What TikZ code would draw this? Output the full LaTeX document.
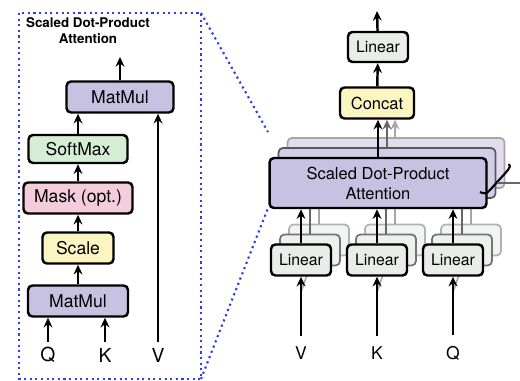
\documentclass[tikz,border=0pt]{standalone}
\usepackage{fontspec}
\setmainfont{TeX Gyre Heros}
\usepackage{tikz}
\usetikzlibrary{arrows.meta, positioning}

\definecolor{mmpurple}{HTML}{C8C2E2}
\definecolor{smgreen}{HTML}{D5EDD5}
\definecolor{maskpink}{HTML}{F5CCDC}
\definecolor{scyellow}{HTML}{FBF5C2}
\definecolor{lingray}{HTML}{E8EDEA}
\definecolor{zoomblue}{HTML}{2C3CF0}

\begin{document}
\begin{tikzpicture}[
        x=0.02cm, y=-0.02cm,
        block/.style={
            rectangle,
            rounded corners=2.5pt,
            draw=black,
            line width=1.4pt,
            inner sep=0pt,
            minimum height=0.62cm,
            text centered,
            font=\fontsize{10}{12}\selectfont
        },
        matmul/.style={block, fill=mmpurple},
        softmax/.style={block, fill=smgreen},
        maskbox/.style={block, fill=maskpink},
        scalebox/.style={block, fill=scyellow},
        linbox/.style={
            block,
            fill=lingray,
            minimum width=1.2cm,
            font=\fontsize{9}{11}\selectfont
        },
        attbox/.style={
            block,
            fill=mmpurple,
            minimum width=4.34cm,
            minimum height=1cm,
            align=center,
            font=\fontsize{9.4}{11.4}\selectfont
        },
        ghostnear/.style={draw=black!65, fill=mmpurple!80, line width=1pt},
        ghostfar/.style={draw=black!35, fill=mmpurple!55, line width=1pt},
        linghostnear/.style={draw=black!55, fill=lingray!80, line width=1pt},
        linghostfar/.style={draw=black!30, fill=lingray!60, line width=1pt},
        arrow/.style={
            line width=1.4pt,
            -{Stealth[length=5.5pt,width=5pt]}
        },
        inlabel/.style={font=\fontsize{11}{13}\selectfont, inner sep=1pt}
    ]
        \useasboundingbox (0,0) rectangle (520,381);

        % left: scaled dot-product attention
        \node (title) [font=\fontsize{7.6}{9}\selectfont\bfseries, align=center] at (88,31) {Scaled Dot-Product\\Attention};
        \node (mmtop) [matmul, minimum width=2.14cm] at (120,97) {MatMul};
        \node (softmax) [softmax, minimum width=1.98cm, minimum height=0.56cm] at (78,149) {SoftMax};
        \node (mask) [maskbox, minimum width=2.18cm] at (78,198) {Mask (opt.)};
        \node (scale) [scalebox, minimum width=1.42cm] at (78,248) {Scale};
        \node (mmbot) [matmul, minimum width=2cm] at (78,301) {MatMul};
        \node (q) [inlabel] at (48,355) {Q};
        \node (k) [inlabel] at (105,355) {K};
        \node (v) [inlabel] at (158,355) {V};
        \coordinate (attout) at (120,57);

        \draw [arrow, shorten <=2pt] (q) -- (q |- mmbot.south);
        \draw [arrow, shorten <=2pt] (k) -- (k |- mmbot.south);
        \draw [arrow, shorten <=2pt] (v) -- (v |- mmtop.south);
        \draw [arrow] (mmbot) -- (scale);
        \draw [arrow] (scale) -- (mask);
        \draw [arrow] (mask) -- (softmax);
        \draw [arrow] (softmax) -- (softmax |- mmtop.south);
        \draw [arrow] (mmtop) -- (attout);

        % zoom frame
        \coordinate (frametl) at (19,13);
        \coordinate (framebr) at (201,379);
        \coordinate (zoomtop) at (268,132);
        \coordinate (zoombot) at (268,208);
        \draw [zoomblue, dotted, line width=1.2pt] (frametl) rectangle (framebr);
        \draw [zoomblue, dotted, line width=1.2pt] (framebr |- frametl) -- (zoomtop);
        \draw [zoomblue, dotted, line width=1.2pt] (framebr) -- (zoombot);

        % right: multi-head attention
        \node (lin2v) [linbox, linghostfar] at (319,240) {};
        \node (lin1v) [linbox, linghostnear] at (310,250) {};
        \node (lin2k) [linbox, linghostfar] at (395,240) {};
        \node (lin1k) [linbox, linghostnear] at (386,250) {};
        \node (lin2q) [linbox, linghostfar] at (471,240) {};
        \node (lin1q) [linbox, linghostnear] at (462,250) {};
        \node (att2) [attbox, ghostfar] at (396,163) {};
        \node (att1) [attbox, ghostnear] at (387,173) {};

        \foreach \g in {v,k,q} {
            \draw [black!35, line width=1pt] (lin2\g) -- (lin2\g |- att1.south);
            \draw [black!60, line width=1pt] (lin1\g) -- (lin1\g |- att1.south);
        }

        \node (inv) [inlabel, font=\fontsize{10}{12}\selectfont] at (301,353) {V};
        \node (ink) [inlabel, font=\fontsize{10}{12}\selectfont] at (377,353) {K};
        \node (inq) [inlabel, font=\fontsize{10}{12}\selectfont] at (453,353) {Q};
        \foreach \g/\x in {v/301,k/377,q/453} {
            \draw [black!35, line width=0.9pt] (\x,292) -- (lin1\g.south);
        }

        \node (att) [attbox] at (378,183) {Scaled Dot-Product\\Attention};
        \node (linv) [linbox] at (301,260) {Linear};
        \node (link) [linbox] at (377,260) {Linear};
        \node (linq) [linbox] at (453,260) {Linear};
        \node (concat) [scalebox, minimum width=1.48cm, font=\fontsize{9.4}{11}\selectfont] at (377,103) {Concat};
        \node (linout) [linbox, minimum height=0.6cm] at (378,47) {Linear};
        \coordinate (mhaout) at (377,11);

        \foreach \g in {v,k,q} {
            \draw [arrow, shorten <=5pt] (in\g) -- (lin\g);
            \draw [arrow] (lin\g) -- (lin\g |- att.south);
        }

        \draw [arrow, draw=black!35] (att2.north -| concat.south) ++(18,0) coordinate (c2) -- (c2 |- concat.south);
        \draw [arrow, draw=black!60] (att1.north -| concat.south) ++(10,0) coordinate (c1) -- (c1 |- concat.south);
        \draw [arrow] (att) -- (att.north |- concat.south);
        \draw [arrow] (concat) -- (linout);
        \draw [arrow] (linout) -- (mhaout);

        % head brace
        \draw [line width=1.2pt] (509,164) .. controls (512,167) and (507,171) .. (499,180) -- (490,190) .. controls (487,194) and (483,194) .. (480,192);
        \draw [black!60, line width=0.8pt] (497,183) -- (520,183);
\end{tikzpicture}
\end{document}
